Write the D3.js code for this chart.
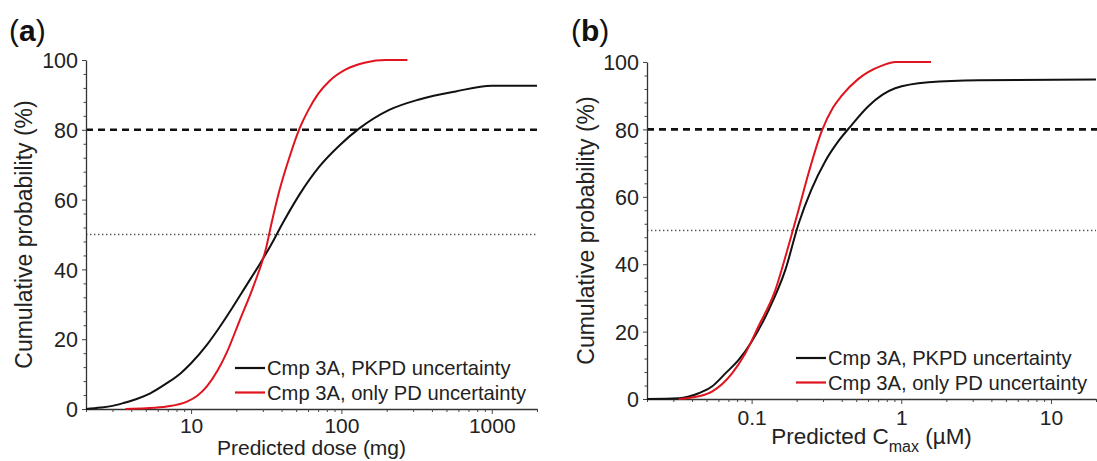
<!DOCTYPE html>
<html>
<head>
<meta charset="utf-8">
<script src="https://cdn.jsdelivr.net/npm/d3@7"></script>
<style>
  body { margin: 0; background: #fff; }
  svg { display: block; font-family: "Liberation Sans", Arial, Helvetica, sans-serif; }
</style>
</head>
<body>
<svg id="chart" width="1097" height="461"></svg>
<script>
'use strict';

// ---- data ----
// panel (a): predicted dose (mg) vs cumulative probability (%)
var doseTicks = [10, 100, 1000];
var pkpdDose = [
    [2, 0], [2.5, 0.4], [3, 0.9], [3.55, 1.7], [4.3, 2.8], [5.35, 4.5], [6.9, 7.4], [8.5, 10.2],
    [10, 13.1], [12.7, 18.3], [15.5, 23.5], [19, 29.3], [23, 35], [28.6, 41.5], [34, 47],
    [41, 53.5], [52.7, 61.5], [71.5, 69.5], [97, 75.5], [131.6, 80.4], [208, 85.7], [329, 88.7],
    [575, 91], [1000, 92.6], [2000, 92.6]
];
var pdOnlyDose = [
    [3.66, 0], [5, 0.2], [6.9, 0.7], [9.4, 2.1], [11, 3.8], [12.7, 6.4], [15, 11], [17.2, 16],
    [21.1, 25.5], [25.9, 35], [31.7, 46.5], [34.2, 53], [38.8, 62.8], [45, 72], [52.7, 80.4],
    [60, 85.5], [70, 90.3], [83.3, 94], [107, 97.3], [145, 99.3], [198, 100], [275, 100]
];

// panel (b): predicted Cmax (uM) vs cumulative probability (%)
var cmaxTicks = [0.1, 1, 10];
var pkpdCmax = [
    [0.02, 0], [0.0326, 0.2], [0.0443, 1.7], [0.0543, 3.7], [0.0668, 7.6], [0.0819, 11.6],
    [0.1, 17], [0.13, 26.4], [0.168, 38.3], [0.206, 52], [0.25, 62], [0.31, 70.5], [0.38, 76.5],
    [0.46, 81], [0.6, 86.8], [0.75, 90.3], [0.91, 92.2], [1.52, 94], [3.3, 94.6], [20, 94.8]
];
var pdOnlyCmax = [
    [0.0326, 0], [0.0443, 0.8], [0.0543, 2.2], [0.074, 7.6], [0.0908, 13.6], [0.111, 21.5],
    [0.144, 32.3], [0.1765, 45.5], [0.2056, 56], [0.24, 67], [0.294, 79.5], [0.35, 86.5],
    [0.4, 90], [0.517, 95], [0.6, 97], [0.75, 99], [0.91, 100], [1.58, 100]
];

var probTicks = [0, 20, 40, 60, 80, 100];
var seriesNames = ["Cmp 3A, PKPD uncertainty", "Cmp 3A, only PD uncertainty"];
var seriesColors = ["#111111", "#e0141e"];
var refLevels = [80, 50];

var svg = d3.select("#chart");

function drawPanel(opts) {
    var g = svg.append("g");

    var x = d3.scaleLog().domain(opts.xDomain).range([opts.left, opts.right]);
    var y = d3.scaleLinear().domain([0, 100]).range([opts.bottom, opts.top]);

    // minor ticks: 2..9 in each decade, every 4 % on y
    var xMinor = [];
    var lo = Math.floor(Math.log10(opts.xDomain[0])), hi = Math.ceil(Math.log10(opts.xDomain[1]));
    for (var e = lo; e < hi; e++) {
        for (var k = 2; k <= 9; k++) {
            var v = k * Math.pow(10, e);
            if (v >= opts.xDomain[0] * 0.999 && v <= opts.xDomain[1] * 1.001) xMinor.push(+v.toPrecision(3));
        }
    }
    var yMinor = d3.range(0, 101, 4).filter((d) => { return d % 20 !== 0; });

    // reference lines
    g.append("line")
        .attr("x1", x(opts.xDomain[0])).attr("x2", opts.dashEnd)
        .attr("y1", y(refLevels[0])).attr("y2", y(refLevels[0]))
        .attr("stroke", "#111").attr("stroke-width", 2.6)
        .attr("stroke-dasharray", "7,5");

    g.append("line")
        .attr("x1", x(opts.xDomain[0])).attr("x2", opts.right)
        .attr("y1", y(refLevels[1])).attr("y2", y(refLevels[1]))
        .attr("stroke", "#555").attr("stroke-width", 1.4)
        .attr("stroke-dasharray", "1.4,2.6");

    // axes
    var xAxis = g.append("g")
        .attr("transform", "translate(0," + opts.bottom + ")")
        .call(d3.axisBottom(x).tickValues(opts.xTicks).tickSize(5).tickSizeOuter(0)
            .tickFormat((d) => { return String(d); }));
    g.append("g")
        .attr("transform", "translate(0," + opts.bottom + ")")
        .call(d3.axisBottom(x).tickValues(xMinor).tickSize(3).tickFormat(""))
        .call((s) => { s.select(".domain").remove(); });

    var yAxis = g.append("g")
        .attr("transform", "translate(" + opts.left + ",0)")
        .call(d3.axisLeft(y).tickValues(probTicks).tickSize(4).tickSizeOuter(0));
    g.append("g")
        .attr("transform", "translate(" + opts.left + ",0)")
        .call(d3.axisLeft(y).tickValues(yMinor).tickSize(2.5).tickFormat(""))
        .call((s) => { s.select(".domain").remove(); });

    g.selectAll(".domain").attr("stroke", "#333").attr("stroke-width", 1.3);
    g.selectAll(".tick line").attr("stroke", "#444").attr("stroke-width", 1);

    xAxis.selectAll("text")
        .attr("font-size", 21).attr("fill", "#222")
        .attr("dy", null).attr("y", opts.xLabelY);
    yAxis.selectAll("text")
        .attr("font-size", 21.5).attr("fill", "#222")
        .attr("x", -8).attr("dy", "0.36em");

    // curves
    var line = d3.line()
        .x((d) => { return x(d[0]); })
        .y((d) => { return y(d[1]); })
        .curve(d3.curveMonotoneX);

    opts.series.forEach((s, i) => {
        g.append("path")
            .datum(s)
            .attr("fill", "none")
            .attr("stroke", seriesColors[i])
            .attr("stroke-width", 2)
            .attr("stroke-linejoin", "round")
            .attr("d", line);
    });

    // legend
    var legend = g.selectAll(".legend_row")
        .data(seriesNames)
        .enter().append("g")
        .attr("class", "legend_row")
        .attr("transform", (d, i) => {
            return "translate(" + (opts.left + 149) + "," + (opts.bottom - 41 + i * 24.5) + ")";
        });
    legend.append("line")
        .attr("x1", 0).attr("x2", 30)
        .attr("stroke", (d, i) => { return seriesColors[i]; })
        .attr("stroke-width", 2.2);
    legend.append("text")
        .attr("x", 32).attr("dy", "0.36em")
        .attr("font-size", 20.2).attr("fill", "#222")
        .text((d) => { return d; });

    // axis titles
    g.append("text")
        .attr("transform", "translate(" + opts.yTitleX + "," + ((opts.top + opts.bottom) / 2) + ") rotate(-90)")
        .attr("text-anchor", "middle")
        .attr("dy", "0.36em")
        .attr("font-size", 23).attr("fill", "#222")
        .text("Cumulative probability (%)");

    var xt = g.append("text")
        .attr("x", (opts.left + opts.right) / 2)
        .attr("y", opts.xTitleY)
        .attr("text-anchor", "middle")
        .attr("font-size", opts.xTitleSize).attr("fill", "#222");
    opts.xTitle(xt);

    // panel label
    var lab = g.append("text")
        .attr("x", opts.labelX).attr("y", 41)
        .attr("font-size", 30).attr("fill", "#111");
    lab.append("tspan").text("(");
    lab.append("tspan").attr("font-weight", "bold").text(opts.label);
    lab.append("tspan").text(")");
}

drawPanel({
    label: "a",
    labelX: 9,
    left: 86, right: 537, top: 60, bottom: 409,
    dashEnd: 537,
    xDomain: [2, 2000],
    xTicks: doseTicks,
    xLabelY: 24,
    xTitleY: 455,
    xTitleSize: 21,
    yTitleX: 24,
    series: [pkpdDose, pdOnlyDose],
    xTitle: (t) => { t.text("Predicted dose (mg)"); }
});

drawPanel({
    label: "b",
    labelX: 571,
    left: 647, right: 1096, top: 62, bottom: 399,
    dashEnd: 1097,
    xDomain: [0.02, 20],
    xTicks: cmaxTicks,
    xLabelY: 26,
    xTitleY: 444,
    xTitleSize: 22.5,
    yTitleX: 586,
    series: [pkpdCmax, pdOnlyCmax],
    xTitle: (t) => {
        t.append("tspan").text("Predicted C");
        t.append("tspan").attr("font-size", 16).attr("dy", 8).text("max");
        t.append("tspan").attr("dy", -8).text(" (\u00b5M)");
    }
});
</script>
</body>
</html>
